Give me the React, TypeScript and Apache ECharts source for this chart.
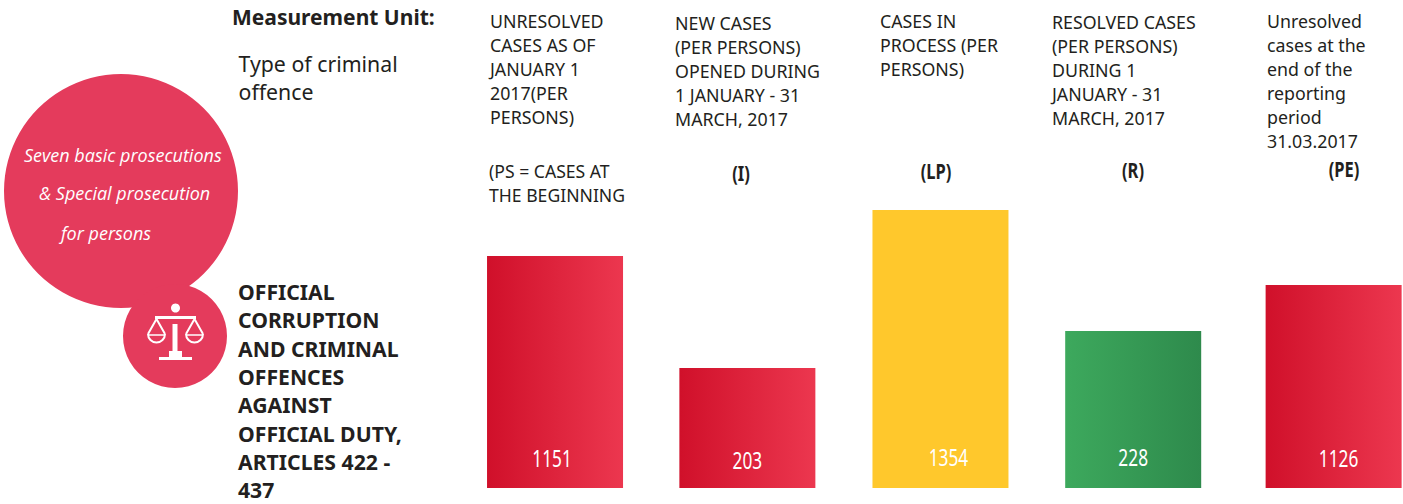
import React, { useEffect, useRef } from "react";
import * as echarts from "echarts";

const WIDTH = 1403;
const HEIGHT = 504;
const BAR_BASE = 488;

const categories = ["(PS)", "(I)", "(LP)", "(R)", "(PE)"];
const printedValues = [1151, 203, 1354, 228, 1126];
// Bars in the picture are not proportional to the printed numbers: drawn lengths.
const drawnLengths = [232, 120, 278, 157, 203];
const slots = [0, 0.998, 2, 3, 4.04];

const headers = [
  "UNRESOLVED\nCASES AS OF\nJANUARY 1\n2017(PER\nPERSONS)",
  "NEW CASES\n(PER PERSONS)\nOPENED DURING\n1 JANUARY - 31\nMARCH, 2017",
  "CASES IN\nPROCESS (PER\nPERSONS)",
  "RESOLVED CASES\n(PER PERSONS)\nDURING 1\nJANUARY - 31\nMARCH, 2017",
  "Unresolved\ncases at the\nend of the\nreporting\nperiod\n31.03.2017",
];
const headerX = [490, 675, 880, 1052, 1267];
const headerY = [9, 10.5, 9, 10, 9];
const codes = ["(I)", "(LP)", "(R)", "(PE)"];
const codeX = [741, 936, 1133, 1344];
const codeY = [173, 171, 170, 169];
const italicLines = ["Seven basic prosecutions", "& Special prosecution", "for persons"];
const italicX = [24, 39, 61];
const italicY = [155, 193, 233];
const offenceLines = [
  "OFFICIAL",
  "CORRUPTION",
  "AND CRIMINAL",
  "OFFENCES",
  "AGAINST",
  "OFFICIAL DUTY,",
  "ARTICLES 422 -",
  "437",
];

const sans = "'Noto Sans'";
const ink = "#231F20";
const grad = (a: string, b: string) =>
  new echarts.graphic.LinearGradient(0, 0, 1, 0, [
    { offset: 0, color: a },
    { offset: 1, color: b },
  ]);
const barFills = [
  () => grad("#D0102A", "#EC374F"),
  () => grad("#D0102A", "#EC374F"),
  () => "#FFC82C",
  () => grad("#3DA95D", "#2E8A4C"),
  () => grad("#D0102A", "#EC374F"),
];
const labelDx = [-3, 0, 8, 0, 5];
const labelRise = [30, 28, 31, 31, 30];

const txt = (x: number, y: number, text: string, fontSize: number, extra: any = {}, node: any = {}) => ({
  type: "text",
  x,
  y,
  silent: true,
  ...node,
  style: { text, fontSize, fontFamily: sans, fill: ink, textVerticalAlign: "middle", ...extra },
});

const scaleIcon = () => {
  const w = { stroke: "#fff", lineWidth: 2, fill: "none" };
  const f = { fill: "#fff" };
  const pan = (cx: number) => [
    { type: "polyline", shape: { points: [[cx - 8.5, 334], [cx, 319], [cx + 8.5, 334]] }, style: w },
    { type: "arc", shape: { cx, cy: 334, r: 8.5, startAngle: 0, endAngle: Math.PI, clockwise: true }, style: w },
    { type: "line", shape: { x1: cx - 8.5, y1: 335, x2: cx + 8.5, y2: 335 }, style: { stroke: "#fff", lineWidth: 1.5 } },
  ];
  return [
    { type: "circle", shape: { cx: 175.5, cy: 308, r: 4.5 }, style: f },
    { type: "rect", shape: { x: 155, y: 316, width: 41, height: 3 }, style: f },
    { type: "rect", shape: { x: 172.5, y: 324, width: 5, height: 29 }, style: f },
    { type: "rect", shape: { x: 169, y: 351, width: 13, height: 7 }, style: f },
    { type: "rect", shape: { x: 159, y: 357, width: 33, height: 3 }, style: f },
    ...pan(156.5),
    ...pan(194.5),
  ];
};

export default function App() {
  const ref = useRef<HTMLDivElement>(null);
  useEffect(() => {
    document.body.style.margin = "0";
    const chart = echarts.init(ref.current!, undefined, { renderer: "svg" });
    chart.setOption({
      animation: false,
      backgroundColor: "#fff",
      grid: { left: 0, right: 0, top: 0, bottom: HEIGHT - BAR_BASE },
      xAxis: { type: "value", min: -2.88, max: 4.4, show: false },
      yAxis: { type: "value", min: 0, max: BAR_BASE, show: false },
      series: [
        {
          type: "bar",
          barWidth: 136,
          data: categories.map((name, i) => ({
            name,
            value: [slots[i], drawnLengths[i]],
            itemStyle: { color: barFills[i]() },
          })),
        },
        {
          type: "custom",
          z: 5,
          silent: true,
          data: printedValues.map((v, i) => [slots[i], 0, v]),
          encode: { x: 0, y: 1 },
          renderItem: (params: any, api: any) => {
            const i = params.dataIndex;
            const [x, y] = api.coord([api.value(0), 0]);
            return {
              type: "text",
              x: x + labelDx[i],
              y: y - labelRise[i],
              scaleX: 0.72,
              style: {
                text: String(api.value(2)),
                fontSize: 24,
                fontFamily: sans,
                fill: "#fff",
                textAlign: "center",
                textVerticalAlign: "middle",
              },
            };
          },
        },
      ],
      graphic: [
        { type: "circle", shape: { cx: 121, cy: 191, r: 117 }, style: { fill: "#E43B5C" } },
        { type: "circle", shape: { cx: 175, cy: 336, r: 52 }, style: { fill: "#E43B5C" } },
        ...scaleIcon(),
        txt(232, 17, "Measurement Unit:", 21, { fontWeight: "bold" }),
        txt(238.5, 77, "Type of criminal\noffence", 21.3, { lineHeight: 28 }),
        ...italicLines.map((t, i) =>
          txt(italicX[i], italicY[i], t, 18, { fill: "#fff", fontStyle: "italic", fontFamily: "'Open Sans'" })
        ),
        ...offenceLines.map((t, i) => txt(238, 291.5 + i * 28.3, t, 21.2, { fontWeight: "bold" })),
        ...headers.map((t, i) =>
          txt(headerX[i], headerY[i] + (t.split("\n").length * 24) / 2, t, 17.8, { lineHeight: 24 })
        ),
        txt(489, 183, "(PS = CASES AT\nTHE BEGINNING", 17.6, { lineHeight: 24 }),
        ...codes.map((t, i) =>
          txt(codeX[i], codeY[i], t, 22, { fontWeight: "bold", textAlign: "center" }, { scaleX: 0.75 })
        ),
      ],
    });
    return () => chart.dispose();
  }, []);
  return <div ref={ref} style={{ position: "absolute", left: 0, top: 0, width: WIDTH, height: HEIGHT }} />;
}
